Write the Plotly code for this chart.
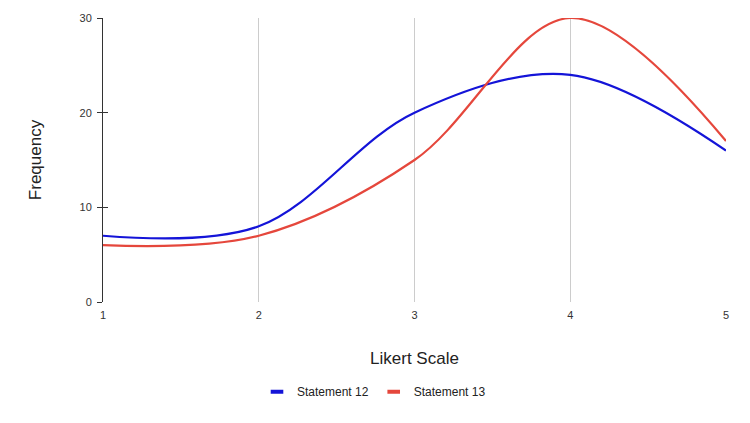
import plotly.graph_objects as go

# Likert responses, frequency per scale point
likert = [1, 2, 3, 4, 5]
statement_12 = [7, 8, 20, 24, 16]
statement_13 = [6, 7, 15, 30, 17]

BLUE = "#1414d8"
RED = "#e5473c"
FONT = "Liberation Sans, Arial, sans-serif"

fig = go.Figure()

for name, vals, color in [("Statement 12", statement_12, BLUE),
                          ("Statement 13", statement_13, RED)]:
    fig.add_trace(go.Scatter(
        x=likert, y=vals, mode="lines", name=name,
        line=dict(color=color, width=2.2, shape="spline", smoothing=1.0),
        showlegend=False, hoverinfo="x+y+name",
    ))
    # legend-only stub so the key is a short thick dash
    fig.add_trace(go.Scatter(
        x=[None], y=[None], mode="markers", name=name,
        marker=dict(symbol="line-ew-open", size=9, color=color,
                    line=dict(color=color, width=4)),
    ))

# second y axis just for the inside half of the crossing tick marks
fig.add_trace(go.Scatter(x=[None], y=[None], yaxis="y2", showlegend=False))

# page body adds an 8px offset, so the figure is sized to fit
fig.update_layout(
    width=742, height=415,
    margin=dict(l=95, r=24, t=10, b=121, autoexpand=False),
    plot_bgcolor="white", paper_bgcolor="white",
    font=dict(family=FONT, size=11, color="#444"),
    xaxis=dict(
        range=[1, 5], tickvals=likert, showgrid=True, gridcolor="#cccccc",
        gridwidth=1, zeroline=False, showline=False, ticks="", automargin=False,
        tickfont=dict(size=11, color="#333"), ticklabelstandoff=5,
        title=dict(text="Likert Scale", font=dict(size=17, color="#222"), standoff=32),
    ),
    yaxis=dict(
        range=[0, 30], tickvals=[0, 10, 20, 30], showgrid=False, zeroline=False,
        showline=True, linecolor="#333", linewidth=1, automargin=False,
        ticks="outside", ticklen=5, tickcolor="#333",
        tickfont=dict(size=11, color="#333"), ticklabelstandoff=3,
        title=dict(text="Frequency", font=dict(size=17, color="#222"), standoff=33),
    ),
    yaxis2=dict(
        range=[0, 30], tickvals=[0, 10, 20, 30], overlaying="y", side="left",
        showgrid=False, zeroline=False, showline=False, showticklabels=False,
        ticks="inside", ticklen=5, tickcolor="#333", automargin=False,
    ),
    legend=dict(
        orientation="h", x=0.435, xanchor="center", y=-0.265, yanchor="top",
        font=dict(size=12, color="#222"), itemwidth=30,
    ),
)

fig.write_html("out.html")
